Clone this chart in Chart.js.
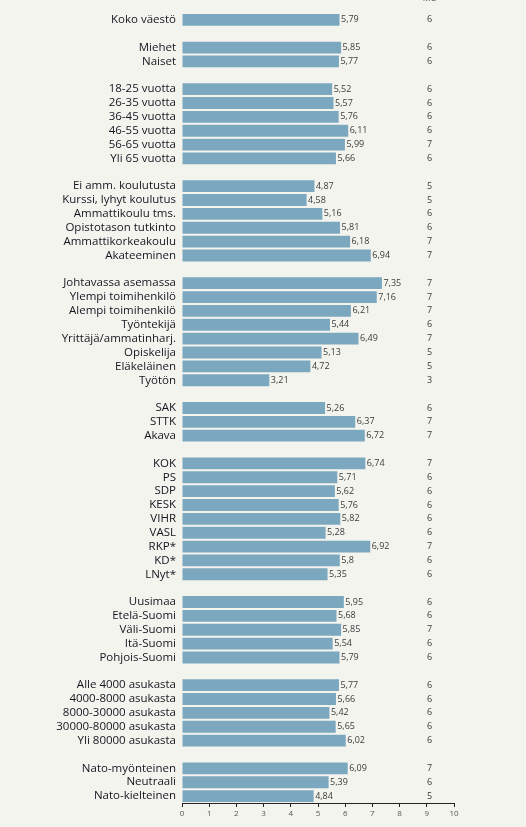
<!DOCTYPE html>
<html>
<head>
<meta charset="utf-8">
<script src="https://cdn.jsdelivr.net/npm/chart.js@4/dist/chart.umd.min.js"></script>
<style>
  html, body { margin: 0; padding: 0; background: #f4f4ef; }
  #wrap { width: 526px; height: 827px; }
</style>
</head>
<body>
<div id="wrap"><canvas id="chart"></canvas></div>
<script>
// Groups are separated by an empty row ('' / null)
const categories = [
    'Koko väestö', '',
    'Miehet', 'Naiset', '',
    '18-25 vuotta', '26-35 vuotta', '36-45 vuotta', '46-55 vuotta', '56-65 vuotta', 'Yli 65 vuotta', '',
    'Ei amm. koulutusta', 'Kurssi, lyhyt koulutus', 'Ammattikoulu tms.', 'Opistotason tutkinto', 'Ammattikorkeakoulu', 'Akateeminen', '',
    'Johtavassa asemassa', 'Ylempi toimihenkilö', 'Alempi toimihenkilö', 'Työntekijä', 'Yrittäjä/ammatinharj.', 'Opiskelija', 'Eläkeläinen', 'Työtön', '',
    'SAK', 'STTK', 'Akava', '',
    'KOK', 'PS', 'SDP', 'KESK', 'VIHR', 'VASL', 'RKP*', 'KD*', 'LNyt*', '',
    'Uusimaa', 'Etelä-Suomi', 'Väli-Suomi', 'Itä-Suomi', 'Pohjois-Suomi', '',
    'Alle 4000 asukasta', '4000-8000 asukasta', '8000-30000 asukasta', '30000-80000 asukasta', 'Yli 80000 asukasta', '',
    'Nato-myönteinen', 'Neutraali', 'Nato-kielteinen'
];
const means = [
    5.79, null,
    5.85, 5.77, null,
    5.52, 5.57, 5.76, 6.11, 5.99, 5.66, null,
    4.87, 4.58, 5.16, 5.81, 6.18, 6.94, null,
    7.35, 7.16, 6.21, 5.44, 6.49, 5.13, 4.72, 3.21, null,
    5.26, 6.37, 6.72, null,
    6.74, 5.71, 5.62, 5.76, 5.82, 5.28, 6.92, 5.8, 5.35, null,
    5.95, 5.68, 5.85, 5.54, 5.79, null,
    5.77, 5.66, 5.42, 5.65, 6.02, null,
    6.09, 5.39, 4.84
];
const medians = [
    6, null,
    6, 6, null,
    6, 6, 6, 6, 7, 6, null,
    5, 5, 6, 6, 7, 7, null,
    7, 7, 7, 6, 7, 5, 5, 3, null,
    6, 7, 7, null,
    7, 6, 6, 6, 6, 6, 7, 6, 6, null,
    6, 6, 7, 6, 6, null,
    6, 6, 6, 6, 6, null,
    7, 6, 5
];
const xTicks = [0, 1, 2, 3, 4, 5, 6, 7, 8, 9, 10];
const medianHeader = 'Md';

// value labels at bar ends + median column on the right
const labelPlugin = {
    id: 'labels',
    afterDatasetsDraw(chart) {
        const ctx = chart.ctx;
        const x = chart.scales.x;
        const meta = chart.getDatasetMeta(0);
        const medX = x.getPixelForValue(9.1);
        ctx.save();
        ctx.textBaseline = 'middle';
        meta.data.forEach((bar, i) => {
            if (means[i] === null) return;
            ctx.font = '9px "Open Sans", sans-serif';
            ctx.fillStyle = '#3a3a3a';
            ctx.textAlign = 'left';
            ctx.fillText(String(means[i]).replace('.', ','), bar.x + 1.5, bar.y);
            ctx.textAlign = 'center';
            ctx.fillText(String(medians[i]), medX, bar.y);
        });
        ctx.textBaseline = 'alphabetic';
        ctx.fillStyle = '#555';
        ctx.fillText(medianHeader, medX, 1);
        ctx.restore();
    }
};

new Chart(document.getElementById('chart'), {
    type: 'bar',
    data: {
        labels: categories,
        datasets: [{
            data: means,
            backgroundColor: '#7ba7bf',
            borderWidth: 0,
            barPercentage: 0.9,
            categoryPercentage: 0.95
        }]
    },
    options: {
        indexAxis: 'y',
        responsive: true,
        maintainAspectRatio: false,
        animation: false,
        layout: { padding: { top: 11, right: 72, bottom: 0, left: 0 } },
        plugins: {
            legend: { display: false },
            tooltip: { enabled: false }
        },
        scales: {
            y: {
                grid: { display: false, drawTicks: false },
                border: { display: false },
                ticks: {
                    autoSkip: false,
                    padding: 6,
                    color: '#15151f',
                    font: { family: '"Open Sans", sans-serif', size: 11.5 }
                },
                afterFit(scale) { scale.width = 182; }
            },
            x: {
                min: 0,
                max: 10,
                afterBuildTicks(scale) { scale.ticks = xTicks.map(v => ({ value: v })); },
                grid: { drawOnChartArea: false, drawTicks: true, tickLength: 4, color: '#222' },
                border: { display: true, color: '#222', width: 1 },
                ticks: {
                    padding: 2,
                    color: '#555',
                    font: { family: '"Open Sans", sans-serif', size: 8 }
                },
                afterFit(scale) { scale.height = 24; }
            }
        }
    },
    plugins: [labelPlugin]
});
</script>
</body>
</html>
